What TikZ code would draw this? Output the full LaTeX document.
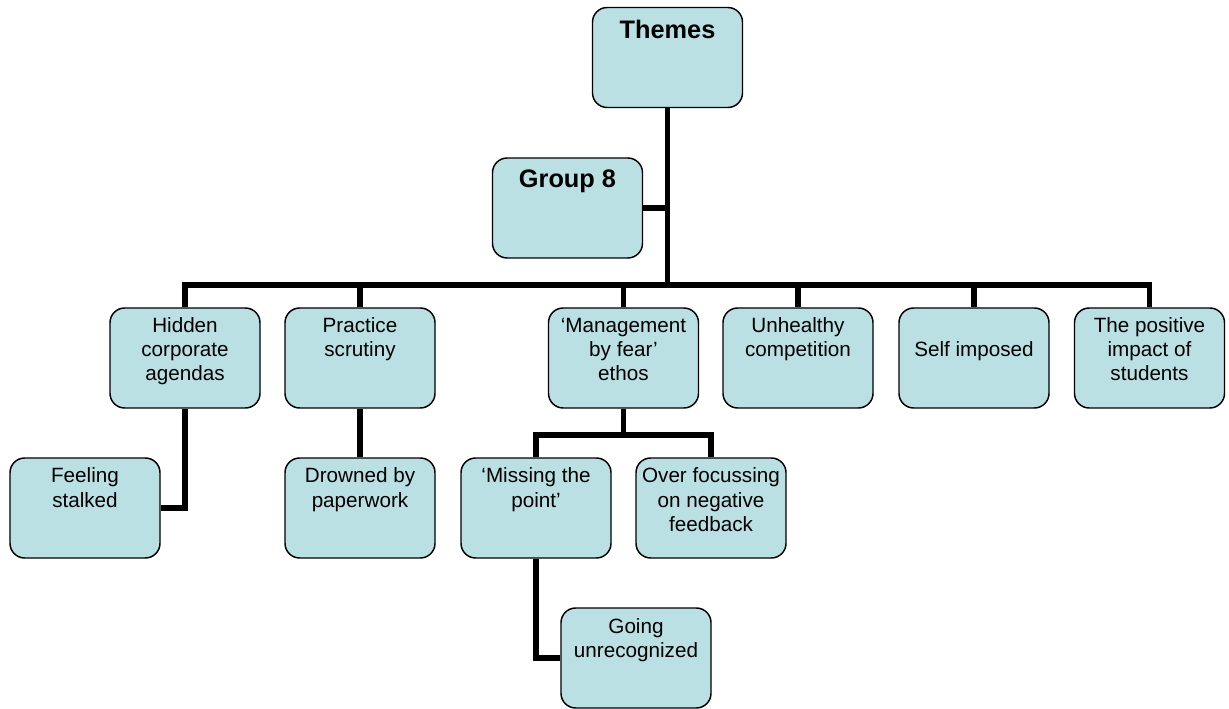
\documentclass[tikz,border=0pt]{standalone}
\usepackage{fontspec}
\setmainfont{Liberation Sans}
\definecolor{cardfill}{RGB}{187,224,227}
% card text: top-aligned block, first baseline at #1 below the card's top edge
\newcommand{\cardtext}[2][18.75pt]{\parbox[c][75pt][t]{112.5pt}{\centering\fontsize{15.5pt}{18pt}\selectfont\rule{0pt}{#1}#2\par}}
\newcommand{\cardhead}[2]{\parbox[c][75pt][t]{112.5pt}{\centering\fontsize{19pt}{22pt}\selectfont\bfseries\rule{0pt}{#1}#2\par}}
\tikzset{
  card/.style={draw=black, line width=1.1pt, fill=cardfill, rounded corners=11pt,
    inner sep=0pt, minimum width=112.5pt, minimum height=75pt},
  conn/.style={draw=black, line width=4pt, line join=miter}
}
\begin{document}
\begin{tikzpicture}[x=0.75pt, y=-0.75pt]
\useasboundingbox (0,0) rectangle (1229,709);

% top of the hierarchy
\node[card] (themes) at (667.5,57.5) {\cardhead{23.5pt}{Themes}};
\node[card] (group) at (567.5,208) {\cardhead{22.5pt}{Group 8}};

% first level
\node[card] (hidden)    at (185,358)    {\cardtext{Hidden\\corporate\\agendas}};
\node[card] (practice)  at (360,358)    {\cardtext{Practice\\scrutiny}};
\node[card] (mgmt)      at (623.5,358)  {\cardtext{‘Management\\by fear’\\ethos}};
\node[card] (unhealthy) at (798,358)    {\cardtext{Unhealthy\\competition}};
\node[card] (selfimp)   at (974,358)    {\cardtext[36.75pt]{Self imposed}};
\node[card] (positive)  at (1149.5,358) {\cardtext{The positive\\impact of\\students}};

% second level
\node[card] (feeling)   at (85,508)     {\cardtext{Feeling\\stalked}};
\node[card] (drowned)   at (360,508)    {\cardtext{Drowned by\\paperwork}};
\node[card] (missing)   at (536,508)    {\cardtext{‘Missing the\\point’}};
\node[card] (overfocus) at (711,508)    {\cardtext{Over focussing\\on negative\\feedback}};

% third level
\node[card] (going)     at (636,658)    {\cardtext{Going\\unrecognized}};

% connectors
\coordinate (bus) at (667.5,285);
\coordinate (mbus) at (623.5,435);
\draw[conn] (themes.south) -- (bus);
\draw[conn] (group.east) -- (group.east -| bus);
\draw[conn] (hidden.north) |- (bus) -| (positive.north);
\foreach \n in {practice,mgmt,unhealthy,selfimp}
  \draw[conn] (\n.north) -- (\n.north |- bus);
\draw[conn] (hidden.south) |- (feeling.east);
\draw[conn] (practice.south) -- (drowned.north);
\draw[conn] (mgmt.south) -- (mbus);
\draw[conn] (missing.north) |- (mbus) -| (overfocus.north);
\draw[conn] (missing.south) |- (going.west);
\end{tikzpicture}
\end{document}
